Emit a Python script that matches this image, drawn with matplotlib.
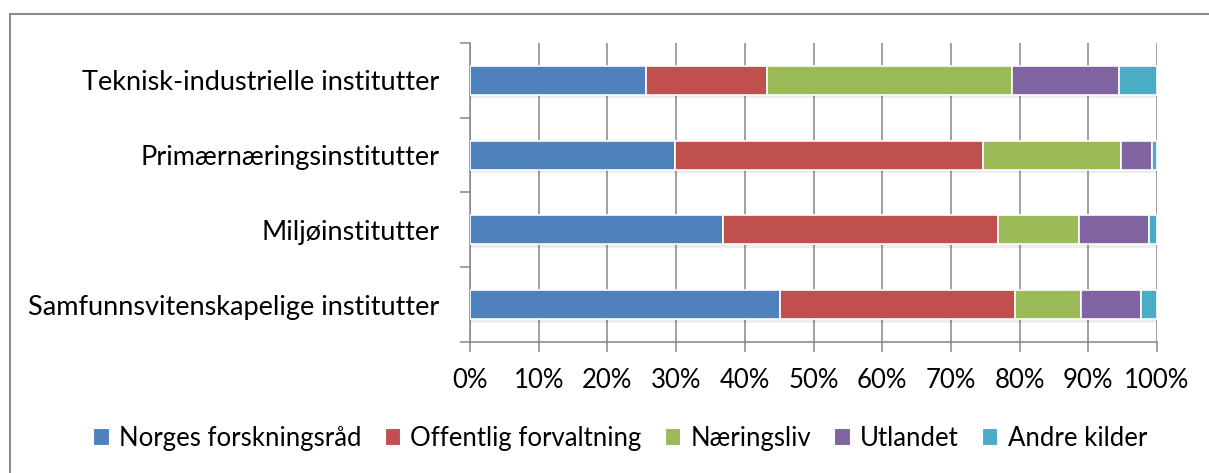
import numpy as np
import matplotlib
matplotlib.use("Agg")
import matplotlib.pyplot as plt
import matplotlib.patheffects as pe
from matplotlib.lines import Line2D
from matplotlib.patches import Patch
from matplotlib.ticker import FixedLocator, PercentFormatter

plt.rcParams['font.family'] = ['Lato', 'DejaVu Sans']

# categories bottom -> top
categories = ["Samfunnsvitenskapelige institutter", "Miljøinstitutter",
              "Primærnæringsinstitutter", "Teknisk-industrielle institutter"]
series = ["Norges forskningsråd", "Offentlig forvaltning", "Næringsliv",
          "Utlandet", "Andre kilder"]
colors = ["#4F81BD", "#C0504D", "#9BBB59", "#8064A2", "#4BACC6"]

# shares (%) per category, same order as categories
forskningsrad = [45.1, 36.8, 29.8, 25.6]
forvaltning = [34.3, 40.0, 44.9, 17.7]
naeringsliv = [9.6, 11.8, 20.1, 35.6]
utlandet = [8.6, 10.3, 4.4, 15.5]
andre = [2.4, 1.1, 0.8, 5.6]

values = np.array([forskningsrad, forvaltning, naeringsliv, utlandet, andre])
shares = values / values.sum(axis=0)

W, H = 1209, 473
fig = plt.figure(figsize=(W / 100, H / 100), dpi=100)
ax = fig.add_axes([470 / W, 1 - 342 / H, (1157 - 470) / W, (342 - 43) / H])

y = np.arange(len(categories))
left = np.zeros(len(categories))
shadow = [pe.SimplePatchShadow(offset=(0, -2.5), alpha=0.07, shadow_rgbFace='k'), pe.Normal()]
for s, name, c in zip(shares, series, colors):
    ax.barh(y, s, left=left, height=0.39, color=c, edgecolor='white',
            linewidth=1.2, zorder=3, path_effects=shadow)
    left += s

gray = "#868686"
ax.set_xlim(0, 1)
ax.set_ylim(-0.5, len(categories) - 0.5)
ax.xaxis.set_major_locator(FixedLocator(np.linspace(0, 1, 11)))
ax.xaxis.set_major_formatter(PercentFormatter(1.0, decimals=0))
ax.grid(axis='x', color=gray, linewidth=1.1, zorder=0)
ax.set_axisbelow(True)

ax.set_yticks(np.arange(-0.5, len(categories), 1.0))
ax.set_yticklabels([])
ax.set_yticks(y, minor=True)
ax.set_yticklabels(categories, minor=True)
ax.tick_params(axis='y', which='major', length=7, width=1.1, color=gray, direction='out')
ax.tick_params(axis='y', which='minor', length=0, pad=22, labelsize=19.5)
ax.tick_params(axis='x', length=7, width=1.1, color=gray, labelsize=18.5, pad=12)

for side in ['top', 'right']:
    ax.spines[side].set_visible(False)
for side in ['left', 'bottom']:
    ax.spines[side].set_color(gray)
    ax.spines[side].set_linewidth(1.1)

handles = [Patch(facecolor=c, edgecolor='white', linewidth=0.8) for c in colors]
fig.legend(handles, series, loc='center', bbox_to_anchor=(0.513, 1 - 438 / H), ncol=5,
           frameon=False, fontsize=18.5, handlelength=0.6, handleheight=0.6,
           handletextpad=0.4, columnspacing=0.9)

# outer chart border (top and left visible)
fig.add_artist(Line2D([10 / W, 10 / W], [0, 1 - 14 / H], color="#8c8c8c", linewidth=1.5))
fig.add_artist(Line2D([10 / W, 1], [1 - 14 / H, 1 - 14 / H], color="#8c8c8c", linewidth=1.5))

fig.savefig("out.png", dpi=100)
